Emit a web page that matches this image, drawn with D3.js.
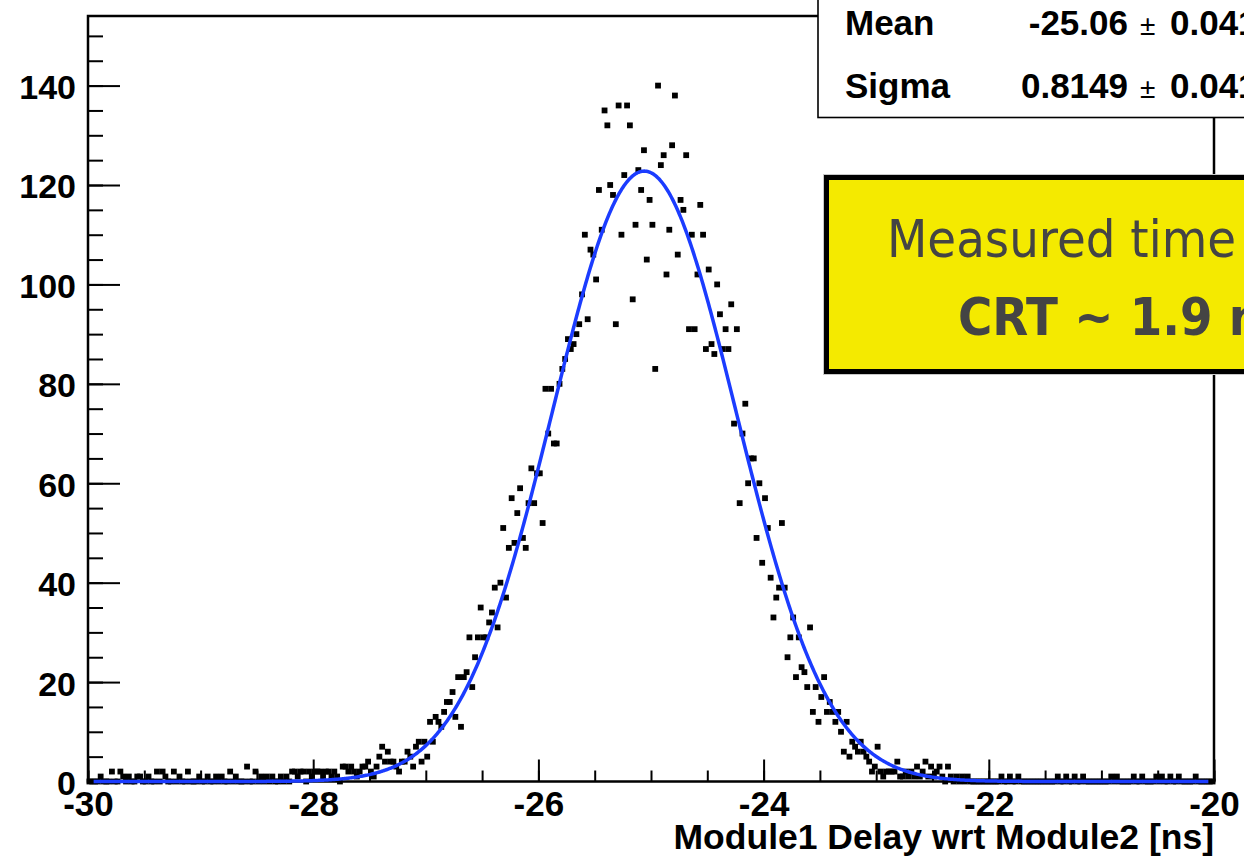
<!DOCTYPE html>
<html><head><meta charset="utf-8">
<script src="https://cdn.jsdelivr.net/npm/d3@7"></script>
<style>body{margin:0;background:#fff;overflow:hidden} svg{display:block}</style>
</head><body>
<svg id="c" width="1244" height="858"></svg>
<script>
// ---- data ----
const binLow = -30;
const binWidth = 0.025;
const counts = [
  0,0,0,0,1,0,0,0,2,0,0,2,1,0,1,0,0,1,1,0,
  0,1,0,0,2,0,2,1,0,0,2,0,1,0,0,2,0,0,0,1,
  0,0,1,0,0,1,0,1,0,0,2,0,1,0,0,0,3,0,0,2,
  0,1,0,1,0,1,0,0,1,0,1,0,2,2,1,2,2,0,2,1,
  2,2,2,1,2,2,1,2,1,0,3,3,2,3,2,1,2,3,3,4,
  2,1,3,5,7,4,6,4,4,3,2,4,4,6,5,3,7,8,4,8,
  5,12,8,13,12,11,14,16,16,18,13,21,11,21,22,29,19,25,29,35,
  29,29,32,34,39,31,40,51,37,47,57,48,54,59,49,47,56,63,56,62,
  62,52,79,70,79,68,68,80,83,85,89,87,88,90,92,98,110,93,107,106,
  101,119,111,135,132,120,118,92,136,110,122,136,132,97,112,123,119,127,105,117,
  112,83,140,124,126,102,111,128,138,106,117,115,126,91,110,91,102,116,110,87,
  103,88,86,100,94,87,91,87,96,72,91,56,70,76,60,65,65,49,60,44,
  57,51,41,33,37,39,52,39,25,29,33,21,29,23,22,19,31,14,19,12,
  17,21,14,16,14,12,14,10,6,12,5,8,7,6,8,6,5,4,2,3,
  7,2,1,2,2,2,2,4,1,1,2,1,2,1,3,1,2,4,1,3,
  1,2,3,1,0,3,1,0,1,0,1,0,1,0,0,0,0,0,0,0,
  0,0,0,0,1,0,0,1,0,0,1,0,0,0,0,0,0,0,0,0,
  0,0,0,0,1,0,0,1,0,0,1,0,0,1,0,0,0,0,0,0,
  0,0,0,1,0,1,0,0,0,0,0,1,0,0,1,0,0,0,0,1,
  0,1,0,0,1,0,0,1,0,0,0,0,0,1,0,0,0,0,0,0
];
const fitConstant = 122.8;
const fitMean = -25.06;
const fitSigma = 0.8149;
const xDomain = [-30, -20];
const yDomain = [0, 154];
const xTickValues = [-30, -28, -26, -24, -22, -20];
const yTickValues = [0, 20, 40, 60, 80, 100, 120, 140];
const xTitle = "Module1 Delay wrt Module2 [ns]";
const statLabels = ["Mean", "Sigma"];
const statValues = ["-25.06", "0.8149"];
const statErrors = ["0.041", "0.041"];
const noteLines = ["Measured time", "CRT ~ 1.9 ns"];

// ---- drawing ----
const svg = d3.select("#c");
const FONT = "'Liberation Sans', Arial, Helvetica, sans-serif";
const L = 88, R = 1214, T = 16, B = 781.5;
const x = d3.scaleLinear().domain(xDomain).range([L, R]);
const y = d3.scaleLinear().domain(yDomain).range([B, T]);

svg.append("rect").attr("width", 1244).attr("height", 858).attr("fill", "#fff");

// minor ticks
const yMinor = d3.range(0, 151, 5);
const xMinor = d3.range(-30, -19.99, 0.5);
svg.append("g").attr("transform", `translate(${L},0)`)
  .call(d3.axisLeft(y).tickValues(yMinor).tickSize(-15).tickFormat(""))
  .call(g => g.select(".domain").remove())
  .call(g => g.selectAll("line").attr("stroke", "#000").attr("stroke-width", 2));
svg.append("g").attr("transform", `translate(0,${B})`)
  .call(d3.axisBottom(x).tickValues(xMinor).tickSize(-11).tickFormat(""))
  .call(g => g.select(".domain").remove())
  .call(g => g.selectAll("line").attr("stroke", "#000").attr("stroke-width", 2));

// major axes
const yAxis = svg.append("g").attr("transform", `translate(${L},0)`)
  .call(d3.axisLeft(y).tickValues(yTickValues).tickSize(-32).tickPadding(12).tickFormat(d3.format("d")));
yAxis.select(".domain").remove();
yAxis.selectAll("line").attr("stroke", "#000").attr("stroke-width", 2);
yAxis.selectAll("text").attr("font-family", FONT).attr("font-weight", "bold")
  .attr("font-size", 34).attr("fill", "#000").attr("dy", "0.38em");

const xAxis = svg.append("g").attr("transform", `translate(0,${B})`)
  .call(d3.axisBottom(x).tickValues(xTickValues).tickSize(-22).tickPadding(10).tickFormat(d3.format("d")));
xAxis.select(".domain").remove();
xAxis.selectAll("line").attr("stroke", "#000").attr("stroke-width", 2);
xAxis.selectAll("text").attr("font-family", FONT).attr("font-weight", "bold")
  .attr("font-size", 35).attr("fill", "#000").text(d => d3.format("d")(d).replace("\u2212", "-"));

// frame
svg.append("rect").attr("x", L).attr("y", T).attr("width", R - L).attr("height", B - T)
  .attr("fill", "none").attr("stroke", "#000").attr("stroke-width", 2.5);

// x title
svg.append("text").attr("x", R).attr("y", 849).attr("text-anchor", "end")
  .attr("font-family", FONT).attr("font-weight", "bold").attr("font-size", 35.5).text(xTitle);

// data markers
const bins = counts.map((c, i) => ({ x: binLow + binWidth * (i + 0.5), c }));
const ms = 5.8;
svg.append("g").selectAll("rect").data(bins).join("rect")
  .attr("x", d => x(d.x) - ms / 2).attr("y", d => y(d.c) - ms / 2)
  .attr("width", ms).attr("height", ms).attr("fill", "#000");

// fit curve
const fx = d3.range(-29.95, -20.049, 0.01);
const line = d3.line().x(d => x(d)).y(d => y(fitConstant * Math.exp(-0.5 * ((d - fitMean) / fitSigma) ** 2)));
svg.append("path").datum(fx).attr("d", line).attr("fill", "none")
  .attr("stroke", "#1b3cff").attr("stroke-width", 3.5).attr("stroke-linejoin", "round");

// stats box
svg.append("rect").attr("x", 818).attr("y", -5).attr("width", 500).attr("height", 122.5)
  .attr("fill", "#fff").attr("stroke", "#000").attr("stroke-width", 1.6);
const rowsY = [35, 98];
statLabels.forEach((lab, i) => {
  svg.append("text").attr("x", 845).attr("y", rowsY[i]).attr("font-family", FONT)
    .attr("font-weight", "bold").attr("font-size", 35).text(lab);
  svg.append("text").attr("x", 1128).attr("y", rowsY[i]).attr("text-anchor", "end").attr("font-family", FONT)
    .attr("font-weight", "bold").attr("font-size", 35).text(statValues[i]);
  svg.append("text").attr("x", 1140).attr("y", rowsY[i]).attr("font-family", FONT)
    .attr("font-size", 28).text("\u00b1");
  svg.append("text").attr("x", 1170).attr("y", rowsY[i]).attr("font-family", FONT)
    .attr("font-weight", "bold").attr("font-size", 35).text(statErrors[i]);
});

// yellow note box
svg.append("rect").attr("x", 823.5).attr("y", 174.5).attr("width", 500).attr("height", 200)
  .attr("fill", "none").attr("stroke", "#c8c8c8").attr("stroke-width", 1);
svg.append("rect").attr("x", 826.5).attr("y", 177.5).attr("width", 500).attr("height", 194)
  .attr("fill", "#f4ea00").attr("stroke", "#000").attr("stroke-width", 5);
const NF = "'DejaVu Sans Condensed', 'DejaVu Sans', Verdana, sans-serif";
svg.append("text").attr("x", 887).attr("y", 257).attr("font-family", NF).attr("font-stretch", "condensed")
  .attr("font-size", 52).attr("fill", "#444").text(noteLines[0]);
svg.append("text").attr("x", 958).attr("y", 335).attr("font-family", NF).attr("font-stretch", "condensed")
  .attr("font-weight", "bold").attr("font-size", 52).attr("fill", "#444").text(noteLines[1]);
</script>
</body></html>
